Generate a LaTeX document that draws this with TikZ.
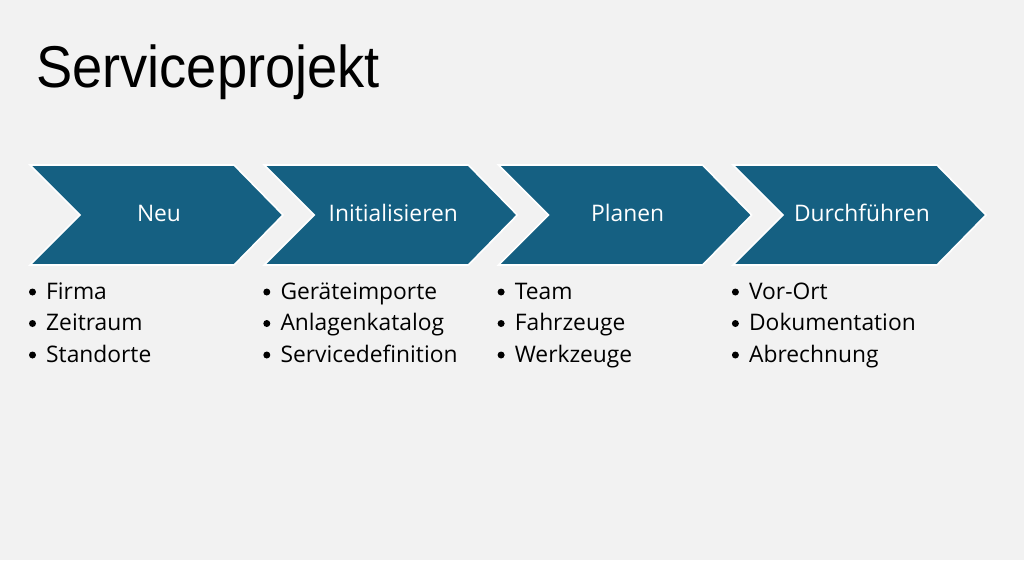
\documentclass[tikz,border=0pt]{standalone}
\usepackage{fontspec}
\setmainfont{Open Sans}
\newfontfamily\titlefont[FakeStretch=0.92]{Liberation Sans}
\definecolor{bg}{HTML}{F2F2F2}
\definecolor{accent}{HTML}{156082}
\begin{document}
\begin{tikzpicture}[x=1pt,y=-1pt,
  chev/.style={fill=accent,draw=white,line width=1.6pt,line join=miter},
  chevlabel/.style={text=white,inner sep=0pt,anchor=base,font=\fontsize{22.8}{27}\selectfont},
  item/.style={inner sep=0pt,anchor=base west,font=\fontsize{22.8}{27}\selectfont},
  dot/.style={circle,fill=black,inner sep=0pt,minimum size=7pt}]
\fill[bg] (0,0) rectangle (1024,560);
\useasboundingbox (0,0) rectangle (1024,560);
\node[inner sep=0pt,anchor=base west,font=\titlefont\fontsize{59}{70}\selectfont] (title) at (36,87) {Serviceprojekt};
\foreach \i/\lab in {0/Neu,1/Initialisieren,2/Planen,3/Durchführen}{
  \pgfmathsetmacro{\L}{30+234.3*\i}
  \draw[chev] (\L,165) -- (\L+204,165) -- (\L+253,215) -- (\L+204,265) -- (\L,265) -- (\L+50,215) -- cycle;
  \node[chevlabel] (c\i) at (\L+129,221) {\lab};
}
\foreach \i/\a/\b/\c in {0/Firma/Zeitraum/Standorte,1/Geräteimporte/Anlagenkatalog/Servicedefinition,2/Team/Fahrzeuge/Werkzeuge,3/Vor-Ort/Dokumentation/Abrechnung}{
  \pgfmathsetmacro{\L}{30+234.3*\i}
  \node[dot] (d\i a) at (\L+2.5,292) {};
  \node[dot] (d\i b) at (\L+2.5,323.5) {};
  \node[dot] (d\i c) at (\L+2.5,355) {};
  \node[item] (t\i a) at (\L+16,299) {\a};
  \node[item] (t\i b) at (\L+16,330.5) {\b};
  \node[item] (t\i c) at (\L+16,362) {\c};
}
\end{tikzpicture}
\end{document}
